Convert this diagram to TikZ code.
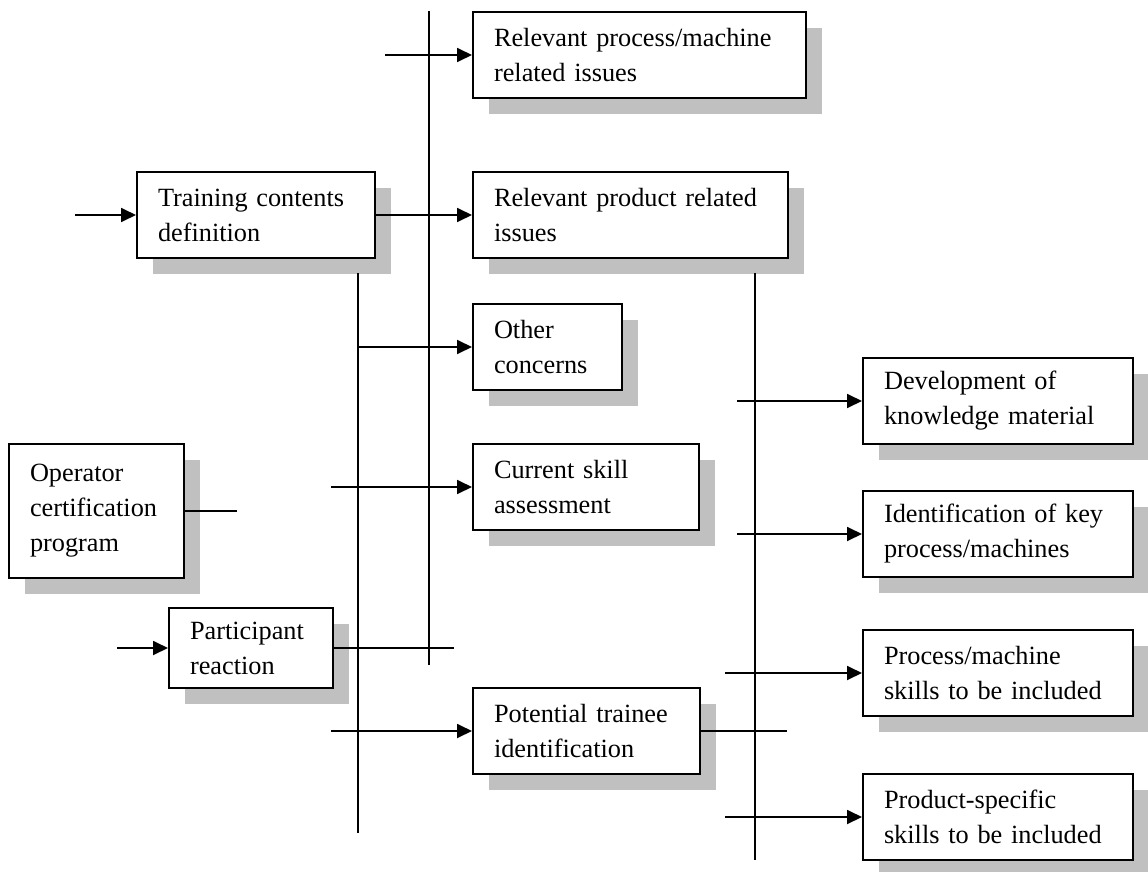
\documentclass[tikz,border=0pt]{standalone}
\usepackage{fontspec}
\setmainfont{Liberation Serif}
\usetikzlibrary{arrows.meta,shadows}
\definecolor{shadowgray}{RGB}{192,192,192}
\begin{document}
\begin{tikzpicture}[x=1pt,y=-1pt,
  box/.style={draw, line width=2pt, fill=white, anchor=north west,
    align=left, inner xsep=21pt, inner ysep=0pt,
    font=\fontsize{26.3}{35}\selectfont,
    general shadow={fill=shadowgray, shadow xshift=16pt, shadow yshift=-16pt}},
  boxsize/.style n args={3}{minimum width=#1, minimum height=#2, text width=#3},
  link/.style={line width=1.8pt},
  arr/.style={link, -{Triangle[length=15pt,width=14pt]}}]
\useasboundingbox (0,0) rectangle (1148,872);

% middle column
\node[box, boxsize={333pt}{86pt}{291pt}] (rpm) at (472,11) {Relevant process/machine\\related issues};
\node[box, boxsize={315pt}{86pt}{273pt}] (rpr) at (472,171) {Relevant product related\\issues};
\node[box, boxsize={149pt}{86pt}{107pt}] (oth) at (472,303) {Other\\concerns};
\node[box, boxsize={226pt}{86pt}{184pt}] (csa) at (472,443) {Current skill\\assessment};
\node[box, boxsize={227pt}{86pt}{185pt}] (pti) at (472,687) {Potential trainee\\identification};

% left column
\node[box, boxsize={238pt}{86pt}{196pt}] (tcd) at (136,171) {Training contents\\definition};
\node[box, boxsize={175pt}{134pt}{133pt}] (ocp) at (8,443) {Operator\\certification\\program};
\node[box, boxsize={164pt}{80pt}{122pt}] (par) at (168,607) {Participant\\reaction};

% right column
\node[box, boxsize={270pt}{86pt}{228pt}] (dkm) at (862,357) {Development of\\knowledge material};
\node[box, boxsize={270pt}{86pt}{228pt}] (ikp) at (862,490) {Identification of key\\process/machines};
\node[box, boxsize={270pt}{86pt}{228pt}] (pms) at (862,629) {Process/machine\\skills to be included};
\node[box, boxsize={270pt}{86pt}{228pt}] (pss) at (862,773) {Product-specific\\skills to be included};

% vertical bars
\coordinate (v1t) at (429,11);  \coordinate (v1b) at (429,665);
\coordinate (v2t) at (358,273); \coordinate (v2b) at (358,833);
\coordinate (v3t) at (755,273); \coordinate (v3b) at (755,860);
\draw[link] (v1t) -- (v1b);
\draw[link] (v2t) -- (v2b);
\draw[link] (v3t) -- (v3b);

% free ends of the horizontal connectors
\coordinate (inTcd) at (75,0);
\coordinate (inRpm) at (385,0);
\coordinate (inCsa) at (331,0);
\coordinate (inPar) at (117,0);
\coordinate (ocpEnd) at (237,0);
\coordinate (parEnd) at (454,0);
\coordinate (ptiEnd) at (787,0);
\coordinate (inUpper) at (737,0);
\coordinate (inLower) at (725,0);

% connectors
\draw[arr] (tcd.west -| inTcd) -- (tcd.west);
\draw[arr] (tcd.east) -- (rpr.west);
\draw[arr] (rpm.west -| inRpm) -- (rpm.west);
\draw[arr] (oth.west -| v2t) -- (oth.west);
\draw[arr] (csa.west -| inCsa) -- (csa.west);
\draw[link] (ocp.east) -- (ocp.east -| ocpEnd);
\draw[arr] (par.west -| inPar) -- (par.west);
\draw[link] (par.east) -- (par.east -| parEnd);
\draw[arr] (pti.west -| inCsa) -- (pti.west);
\draw[link] (pti.east) -- (pti.east -| ptiEnd);
\draw[arr] (dkm.west -| inUpper) -- (dkm.west);
\draw[arr] (ikp.west -| inUpper) -- (ikp.west);
\draw[arr] (pms.west -| inLower) -- (pms.west);
\draw[arr] (pss.west -| inLower) -- (pss.west);
\end{tikzpicture}
\end{document}
